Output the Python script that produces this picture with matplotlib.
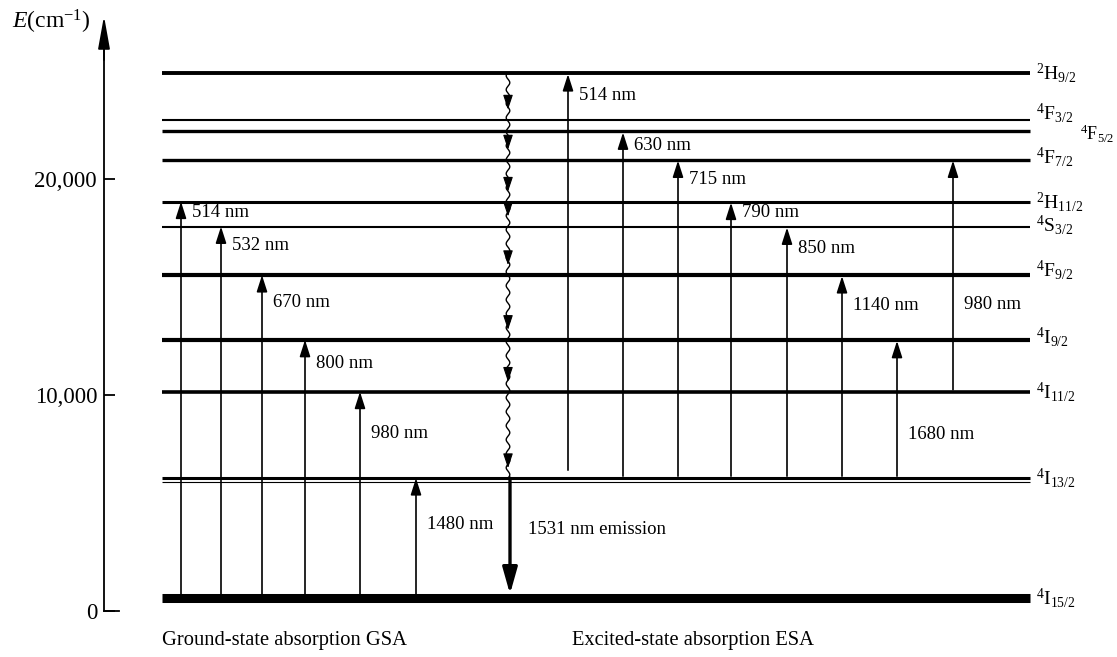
import matplotlib
matplotlib.use('Agg')
import matplotlib.pyplot as plt
import numpy as np

plt.rcParams['font.family'] = ['Liberation Serif', 'DejaVu Serif']
plt.rcParams['mathtext.fontset'] = 'custom'
plt.rcParams['mathtext.rm'] = 'Liberation Serif'
plt.rcParams['mathtext.it'] = 'Liberation Serif:italic'
plt.rcParams['mathtext.bf'] = 'Liberation Serif:bold'

# ---------------- data ----------------
level_ids = ['4I15/2', '4I13/2', '4I11/2', '4I9/2', '4F9/2', '4S3/2',
             '2H11/2', '4F7/2', '4F5/2', '4F3/2', '2H9/2']
level_energy = [600, 6150, 10150, 12550, 15550, 17800,
                18950, 20900, 22200, 22750, 24900]   # cm^-1
level_labels = [r'$^{4}\mathrm{I}_{15/2}$', r'$^{4}\mathrm{I}_{13/2}$',
                r'$^{4}\mathrm{I}_{11/2}$', r'$^{4}\mathrm{I}_{9/2}$',
                r'$^{4}\mathrm{F}_{9/2}$', r'$^{4}\mathrm{S}_{3/2}$',
                r'$^{2}\mathrm{H}_{11/2}$', r'$^{4}\mathrm{F}_{7/2}$',
                r'$^{4}\mathrm{F}_{5/2}$', r'$^{4}\mathrm{F}_{3/2}$',
                r'$^{2}\mathrm{H}_{9/2}$']

gsa_labels = ['514 nm', '532 nm', '670 nm', '800 nm', '980 nm', '1480 nm']
gsa_upper = ['2H11/2', '4S3/2', '4F9/2', '4I9/2', '4I11/2', '4I13/2']

esa_labels = ['514 nm', '630 nm', '715 nm', '790 nm', '850 nm', '1140 nm',
              '1680 nm', '980 nm']
esa_lower = ['4I13/2', '4I13/2', '4I13/2', '4I13/2', '4I13/2', '4I13/2',
             '4I13/2', '4I11/2']
esa_upper = ['2H9/2', '4F5/2', '4F7/2', '2H11/2', '4S3/2', '4F9/2',
             '4I9/2', '4F7/2']

emission_label = '1531 nm emission'
emission_from, emission_to = '4I13/2', '4I15/2'
yticks = [0, 10000, 20000]
ytick_labels = ['0', '10,000', '20,000']

# ---------------- layout ----------------
W, H = 1117, 657
Y0, SCALE = 611.0, 0.0216          # pixel row of E=0, pixels per cm^-1


def E(px):                          # pixel row -> energy coordinate
    return (Y0 - px) / SCALE


def dE(px):                         # pixel distance -> energy distance
    return px / SCALE


lvl = dict(zip(level_ids, level_energy))
level_lw = [6.5, 2.2, 2.6, 3.0, 3.0, 1.5, 2.2, 2.4, 2.4, 1.5, 2.8]
level_label_dy = [0, 0, 0, 3, 5, 1, 0, 3, -2, 7, 0]
level_label_dx = [0, 0, 0, 0, 0, 0, 0, 0, 44, 0, 0]
level_label_fs = [14, 14, 14, 14, 14, 14, 14, 14, 13, 14, 14]
X_LEFT, X_RIGHT, X_LABEL = 162, 1030, 1036

gsa_x = [181, 221, 262, 305, 360, 416]
gsa_label_dy = [11, 19, 27, 24, 42, 46]
esa_x = [568, 623, 678, 731, 787, 842, 897, 953]
esa_label_dy = [22, 14, 20, 11, 22, 30, 95, 145]
esa_start_dy = [8, 2, 2, 2, 2, 2, 2, 2]
X_WAVY, X_EMIT = 508, 510
LABEL_FS = 13.5

fig = plt.figure(figsize=(W / 100, H / 100), dpi=100)
ax = fig.add_axes([0, 0, 1, 1])
ax.set_xlim(0, W)
ax.set_ylim(E(H), E(0))

# energy axis
for s in ['top', 'right', 'bottom']:
    ax.spines[s].set_visible(False)
ax.spines['left'].set_position(('data', 104))
ax.spines['left'].set_linewidth(1.3)
ax.spines['left'].set_bounds(0, E(40))
ax.set_xticks([])
ax.set_yticks(yticks)
ax.set_yticklabels(ytick_labels)
ax.tick_params(axis='y', direction='in', length=8, width=1.3, labelsize=16.5, pad=5)
ax.annotate('', xy=(104, E(16)), xytext=(104, E(60)),
            arrowprops=dict(arrowstyle='-|>,head_length=2.0,head_width=0.36',
                            lw=1.3, color='black', shrinkA=0, shrinkB=0,
                            mutation_scale=10))
ax.plot([104, 119], [0, 0], color='black', lw=1.3)
ax.text(12, E(22), r'$E$(cm$^{-1}$)', fontsize=17, va='center', ha='left')

# levels
for i, (lid, en) in enumerate(zip(level_ids, level_energy)):
    ax.hlines(en, X_LEFT, X_RIGHT, color='black', lw=level_lw[i])
    ax.text(X_LABEL + level_label_dx[i], en + dE(level_label_dy[i]),
            level_labels[i], fontsize=level_label_fs[i], va='center', ha='left')
ax.hlines(lvl['4I13/2'] - dE(4), X_LEFT, X_RIGHT, color='black', lw=0.8)


def up_arrow(x, e0, e1, lw=1.2, hl=1.0, hw=0.32):
    ax.annotate('', xy=(x, e1), xytext=(x, e0),
                arrowprops=dict(arrowstyle=f'-|>,head_length={hl},head_width={hw}',
                                lw=lw, color='black', shrinkA=0, shrinkB=0,
                                mutation_scale=10))


# GSA
for x, lab, up, dy in zip(gsa_x, gsa_labels, gsa_upper, gsa_label_dy):
    up_arrow(x, lvl['4I15/2'], lvl[up])
    ax.text(x + 11, lvl[up] - dE(dy), lab, fontsize=LABEL_FS, va='center', ha='left')

# ESA
for x, lab, lo, up, dy, sdy in zip(esa_x, esa_labels, esa_lower, esa_upper,
                                   esa_label_dy, esa_start_dy):
    up_arrow(x, lvl[lo] + dE(sdy), lvl[up] - dE(1))
    ax.text(x + 11, lvl[up] - dE(dy), lab, fontsize=LABEL_FS, va='center', ha='left')

# non-radiative wavy relaxation
top, bottom = lvl['2H9/2'], lvl['4I13/2']
ys = np.linspace(bottom, top, 600)
xs = X_WAVY + 1.8 * np.sin((ys - bottom) * SCALE * 2 * np.pi / 14)
ax.plot(xs, ys, color='black', lw=1.0)
for lid in ['4F3/2', '4F7/2', '2H11/2', '4S3/2', '4F9/2', '4I9/2', '4I11/2', '4I13/2']:
    tip = lvl[lid] + dE(10)
    ax.annotate('', xy=(X_WAVY, tip), xytext=(X_WAVY, tip + dE(8)),
                arrowprops=dict(arrowstyle='-|>,head_length=0.9,head_width=0.3',
                                lw=0.8, color='black', shrinkA=0, shrinkB=0,
                                mutation_scale=10))

# emission
ax.annotate('', xy=(X_EMIT, lvl[emission_to] + dE(4)), xytext=(X_EMIT, lvl[emission_from]),
            arrowprops=dict(arrowstyle='-|>,head_length=1.6,head_width=0.45',
                            lw=2.4, color='black', shrinkA=0, shrinkB=0,
                            mutation_scale=10))
ax.text(528, E(530), emission_label, fontsize=LABEL_FS, va='center', ha='left')

# bottom captions
ax.text(162, E(640), 'Ground-state absorption GSA', fontsize=14.8, va='center', ha='left')
ax.text(572, E(640), 'Excited-state absorption ESA', fontsize=14.8, va='center', ha='left')

fig.savefig('out.png', dpi=100)
